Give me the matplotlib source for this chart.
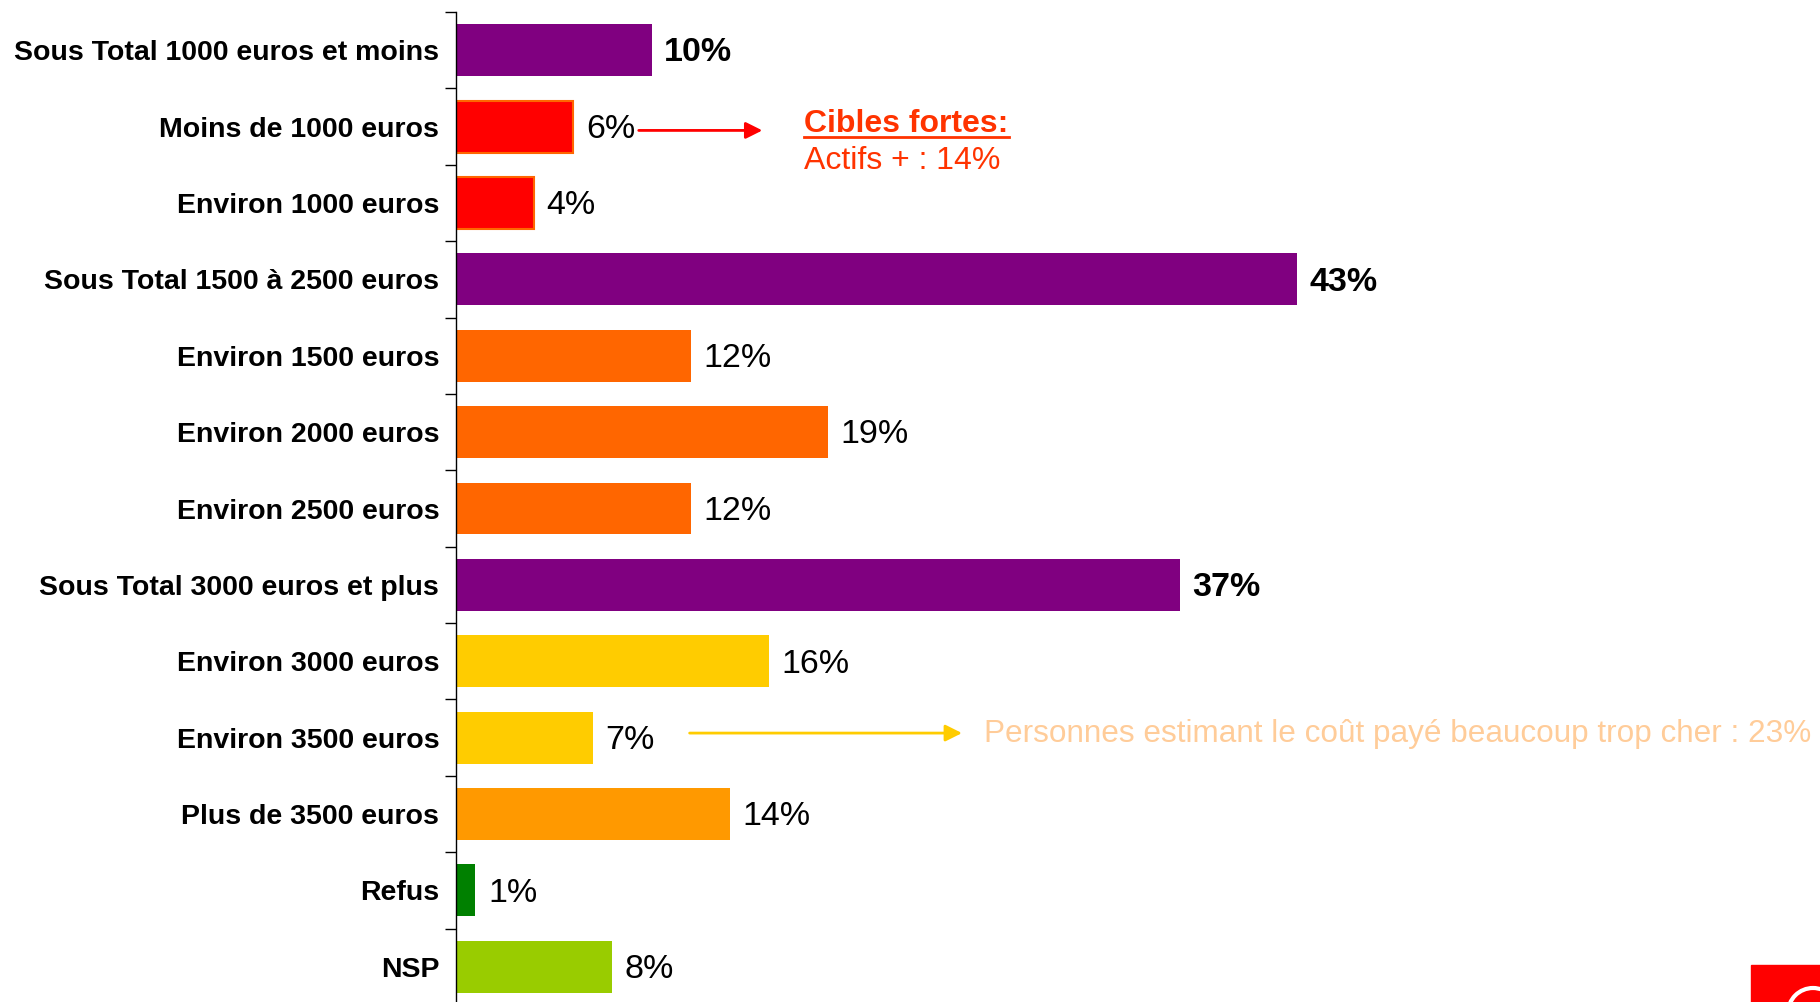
import matplotlib
matplotlib.use("Agg")
import matplotlib.pyplot as plt
from matplotlib.patches import Rectangle, Circle

plt.rcParams['font.family'] = ['Liberation Sans', 'DejaVu Sans']

categories = ["Sous Total 1000 euros et moins", "Moins de 1000 euros", "Environ 1000 euros",
              "Sous Total 1500 à 2500 euros", "Environ 1500 euros", "Environ 2000 euros",
              "Environ 2500 euros", "Sous Total 3000 euros et plus", "Environ 3000 euros",
              "Environ 3500 euros", "Plus de 3500 euros", "Refus", "NSP"]
values = [10, 6, 4, 43, 12, 19, 12, 37, 16, 7, 14, 1, 8]
is_total = [True, False, False, True, False, False, False, True, False, False, False, False, False]
bar_colors = ["#800080", "#FF0000", "#FF0000", "#800080", "#FF6600", "#FF6600", "#FF6600",
              "#800080", "#FFCC00", "#FFCC00", "#FF9900", "#008000", "#99CC00"]
edge_colors = ["none", "#FF6600", "#FF6600", "none", "none", "none", "none",
               "none", "none", "none", "none", "none", "none"]

fig = plt.figure(figsize=(18.2, 10.02), dpi=100)
ax = fig.add_axes([0.2505, -0.003, 0.7495, 0.991])

ypos = list(range(len(categories)))
ax.barh(ypos, values, height=0.68, color=bar_colors, edgecolor=edge_colors, linewidth=1.5)

for y, v, tot in zip(ypos, values, is_total):
    ax.annotate(f"{v}%", xy=(v, y), xytext=(9, -2), textcoords="offset points",
                va="center", ha="left", fontsize=24.5,
                fontweight="bold" if tot else "normal", color="black")

ax.set_xlim(0, 69.7)
ax.set_ylim(12.5, -0.5)
ax.set_yticks(ypos)
ax.set_yticklabels(categories, fontsize=20.5, fontweight="bold")
ax.tick_params(axis="y", which="major", length=0, pad=12)
ax.set_yticks([i - 0.5 for i in range(len(categories) + 1)], minor=True)
ax.tick_params(axis="y", which="minor", length=8, width=1, direction="out")
ax.xaxis.set_visible(False)
for s in ["top", "right", "bottom"]:
    ax.spines[s].set_visible(False)
ax.spines["left"].set_linewidth(1)

# annotations
ax.annotate("", xy=(15.8, 1.05), xytext=(9.2, 1.05),
            arrowprops=dict(arrowstyle="-|>", color="#FF0000", lw=2, mutation_scale=25))
t1 = ax.text(17.8, 0.97, "Cibles fortes:", color="#FF3300", fontsize=23, fontweight="bold",
             va="center", ha="left")
ax.text(17.8, 1.45, "Actifs + : 14%", color="#FF3300", fontsize=23, va="center", ha="left")

ax.annotate("", xy=(26.0, 8.94), xytext=(11.8, 8.94),
            arrowprops=dict(arrowstyle="-|>", color="#FFCC00", lw=2, mutation_scale=25))
ax.text(27.0, 8.95, "Personnes estimant le coût payé beaucoup trop cher : 23%", color="#FFCC99",
        fontsize=22.7, va="center", ha="left")

# underline for "Cibles fortes:"
fig.canvas.draw()
bb = t1.get_window_extent().transformed(fig.transFigure.inverted())
fig.add_artist(plt.Line2D([bb.x0, bb.x1], [bb.y0 + 0.002, bb.y0 + 0.002],
                          color="#FF3300", lw=2, transform=fig.transFigure))

# logo fragment bottom right
fig.add_artist(Rectangle((1751 / 1820, 0), 1 - 1751 / 1820, 37 / 1002,
                         transform=fig.transFigure, color="#FF0000"))
fig.add_artist(Circle((18.13, -0.11), 0.25, transform=fig.dpi_scale_trans,
                      fill=False, edgecolor="white", lw=3))

fig.savefig("out.png", dpi=100)
